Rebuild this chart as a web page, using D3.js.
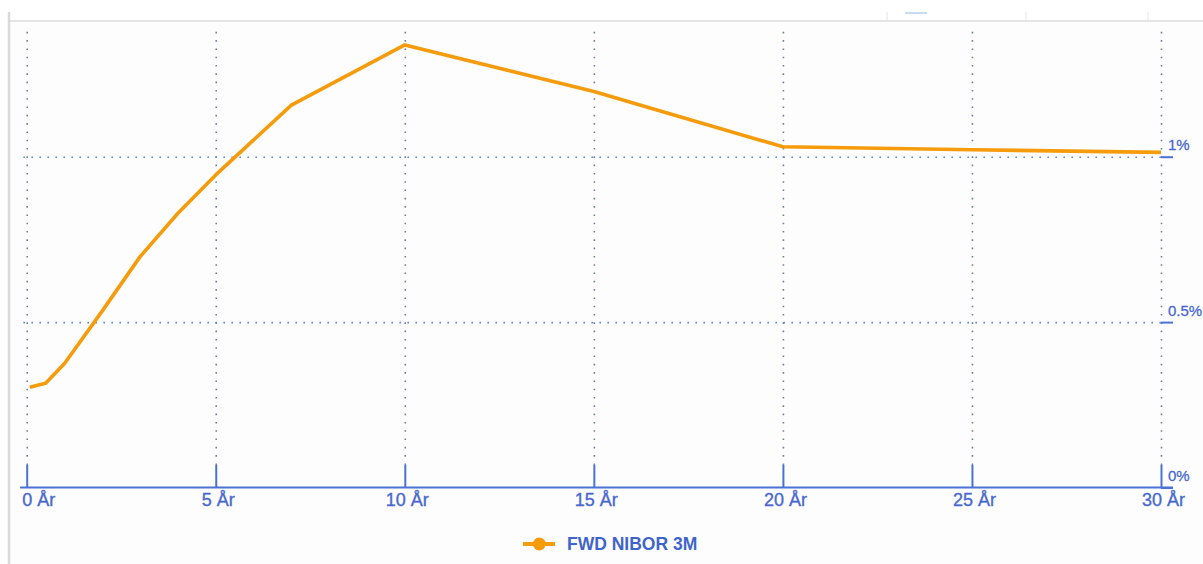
<!DOCTYPE html>
<html>
<head>
<meta charset="utf-8">
<script src="https://cdn.jsdelivr.net/npm/d3@7"></script>
<style>
  body { margin: 0; background: #fff; }
  svg { display: block; font-family: "Liberation Sans", Arial, sans-serif; }
  .x-label text { font-size: 18px; fill: #4868cf; stroke: #4868cf; stroke-width: 0.35px; }
  .y-label text { font-size: 15px; fill: #4868cf; stroke: #4868cf; stroke-width: 0.3px; }
  .legend-text { font-size: 17.5px; font-weight: bold; fill: #3f63cc; }
</style>
</head>
<body>
<svg id="nibor" width="1203" height="564"></svg>
<script>
// data (years forward, percent)
const years = [0.083, 0.5, 1, 2, 3, 4, 5, 7, 10, 15, 20, 25, 30];
const rates = [0.303, 0.315, 0.375, 0.534, 0.698, 0.829, 0.945, 1.156, 1.338, 1.197, 1.03, 1.021, 1.013];
const xTicks = [0, 5, 10, 15, 20, 25, 30];
const xTickLabels = ["0 År", "5 År", "10 År", "15 År", "20 År", "25 År", "30 År"];
const yTicks = [0, 0.5, 1];
const yTickLabels = ["0%", "0.5%", "1%"];
const seriesName = "FWD NIBOR 3M";

const svg = d3.select("#nibor");
const plotLeft = 26.7, plotRight = 1161, plotTop = 29, plotBottom = 487.5;
const lineColor = "#f59b0c";
const axisColor = "#4a72d6";

const xScale = d3.scaleLinear().domain([0, 30]).range([plotLeft, plotRight]);
const yScale = d3.scaleLinear().domain([0, 1]).range([plotBottom, 156.7]);

// frame
svg.append("rect").attr("x", 9).attr("y", 21).attr("width", 1194).attr("height", 543).attr("fill", "#fdfdfd");
svg.append("line").attr("x1", 9).attr("x2", 1203).attr("y1", 21).attr("y2", 21)
   .attr("stroke", "#e4e4e4").attr("stroke-width", 2);
svg.append("line").attr("x1", 9).attr("x2", 9).attr("y1", 12).attr("y2", 564)
   .attr("stroke", "#d9d9d9").attr("stroke-width", 2.5);
// leftover tab marks at top right
[887, 1026, 1148].forEach(x => {
  svg.append("line").attr("x1", x).attr("x2", x).attr("y1", 12).attr("y2", 20)
     .attr("stroke", "#e2e2e2").attr("stroke-width", 1);
});
svg.append("line").attr("x1", 905).attr("x2", 927).attr("y1", 13).attr("y2", 13)
   .attr("stroke", "#c6daf2").attr("stroke-width", 2);

// vertical dotted grid
const tickTop = 465;
const xGrid = d3.axisBottom(xScale).tickValues(xTicks).tickSize(-(tickTop - plotTop)).tickFormat("");
svg.append("g").attr("class", "x-grid")
   .attr("transform", `translate(0,${tickTop})`)
   .call(xGrid)
   .call(g => g.select(".domain").remove())
   .selectAll("line")
   .attr("stroke", "#6f8196").attr("stroke-width", 1.6).attr("stroke-dasharray", "1.6,6.7");

// horizontal dotted grid
const yGrid = d3.axisLeft(yScale).tickValues(yTicks.filter(d => d > 0)).tickSize(plotRight - 20).tickFormat("");
svg.append("g").attr("class", "y-grid")
   .attr("transform", `translate(${plotRight},0)`)
   .call(yGrid)
   .call(g => g.select(".domain").remove())
   .selectAll("line")
   .attr("stroke", "#5b87e0").attr("stroke-width", 1.6).attr("stroke-dasharray", "1.6,6.4");

// x axis with upward ticks
const xAxis = d3.axisBottom(xScale).tickValues(xTicks).tickSize(-(plotBottom - tickTop)).tickSizeOuter(0)
   .tickPadding(6).tickFormat((d, i) => xTickLabels[i]);
const xAxisG = svg.append("g").attr("class", "x-label")
   .attr("transform", `translate(0,${plotBottom})`)
   .call(xAxis);
xAxisG.select(".domain").remove();
xAxisG.selectAll("line").attr("stroke", axisColor).attr("stroke-width", 2);
xAxisG.selectAll("text").attr("font-family", null).attr("font-size", null)
   .attr("text-anchor", (d, i) => i == 0 ? "start" : "middle")
   .attr("x", (d, i) => i == 0 ? -5 : 2);
svg.append("line").attr("x1", 20).attr("x2", 1173).attr("y1", plotBottom).attr("y2", plotBottom)
   .attr("stroke", axisColor).attr("stroke-width", 2);

// y axis on the right, labels above their line
const yAxis = d3.axisRight(yScale).tickValues(yTicks).tickSize(12).tickPadding(-5)
   .tickFormat((d, i) => yTickLabels[i]);
const yAxisG = svg.append("g").attr("class", "y-label")
   .attr("transform", `translate(${plotRight},0)`)
   .call(yAxis);
yAxisG.select(".domain").remove();
yAxisG.selectAll("line").attr("stroke", axisColor).attr("stroke-width", 2);
yAxisG.selectAll("text").attr("font-family", null).attr("font-size", null).attr("dy", -7);

// the series
const lineGen = d3.line().x((d, i) => xScale(years[i])).y(d => yScale(d));
svg.append("path")
   .attr("d", lineGen(rates))
   .attr("fill", "none")
   .attr("stroke", lineColor)
   .attr("stroke-width", 3.6)
   .attr("stroke-linejoin", "round");

// legend
const legend = svg.append("g").attr("id", "legend");
legend.append("line").attr("x1", 523).attr("x2", 555).attr("y1", 544).attr("y2", 544)
   .attr("stroke", lineColor).attr("stroke-width", 4);
legend.append("circle").attr("cx", 539.3).attr("cy", 544).attr("r", 6.5).attr("fill", lineColor);
legend.append("text").attr("class", "legend-text").attr("x", 567).attr("y", 549.5).text(seriesName);
</script>
</body>
</html>
